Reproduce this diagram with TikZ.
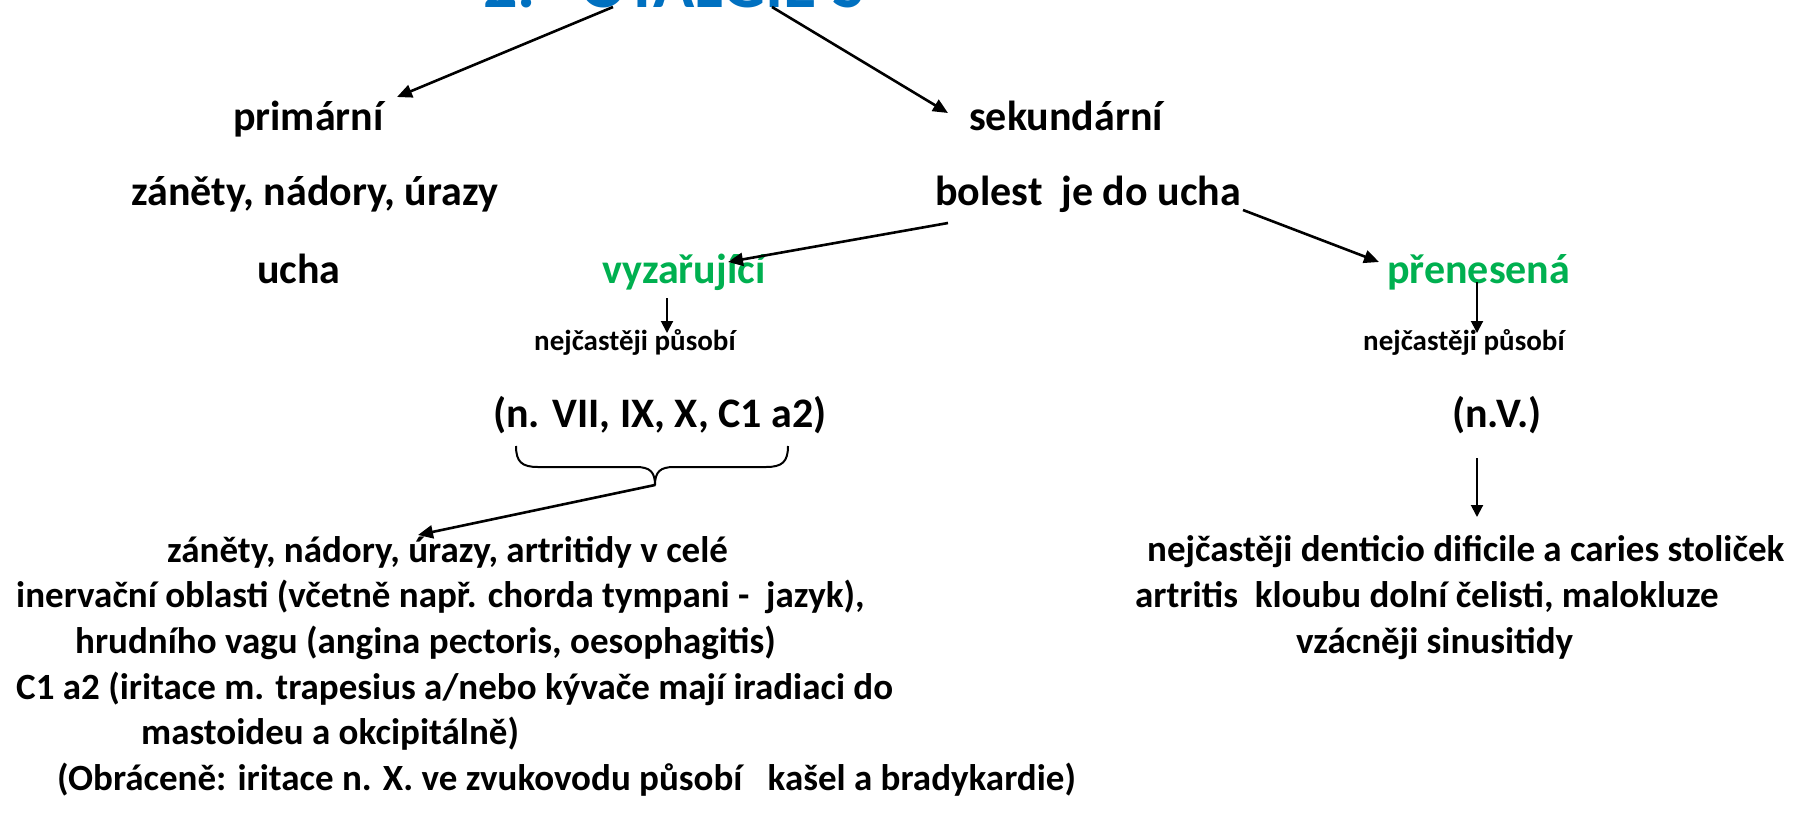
\documentclass[tikz,border=0pt]{standalone}
\usepackage{fontspec}
\setmainfont{Carlito}
\usetikzlibrary{arrows.meta}
\definecolor{tblue}{RGB}{0,112,192}
\definecolor{tgreen}{RGB}{0,176,80}
\tikzset{
  lab/.style={inner sep=0pt, anchor=base west, font=\fontsize{42}{50}\selectfont\bfseries},
  smalllab/.style={inner sep=0pt, anchor=base west, font=\fontsize{29}{34}\selectfont\bfseries},
  bodylab/.style={inner sep=0pt, anchor=base west, font=\fontsize{37}{44}\selectfont\bfseries},
  titlelab/.style={inner sep=0pt, anchor=base west, text=tblue, font=\fontsize{68}{80}\selectfont\bfseries},
  arr/.style={-{Triangle[length=15pt,width=13pt]}, line width=2.6pt},
  sarr/.style={-{Triangle[length=12pt,width=12pt]}, line width=2pt},
  bracestyle/.style={line width=2pt, line join=round}
}
\begin{document}
\begin{tikzpicture}[x=1pt,y=-1pt]
\useasboundingbox (0,0) rectangle (1805,830);
\fill[white] (0,0) rectangle (1805,830);
\begin{scope}
  \clip (0,0) rectangle (1805,830);
  \node[titlelab] (title) at (483,7) {2.\hspace{45pt}OTALGIE S};
\end{scope}
% top labels
\node[lab] (prim) at (233,130) {primární};
\node[lab] (sek) at (969,130) {sekundární};
\node[lab] (zan) at (131,205) {záněty, nádory, úrazy};
\node[lab] (bol) at (935,205) {bolest\ \ je do ucha};
\node[lab] (ucha) at (257,283) {ucha};
\node[lab, text=tgreen] (vyz) at (602,283) {vyzařující};
\node[lab, text=tgreen] (pren) at (1387,283) {přenesená};
\node[smalllab] (nej1) at (534,350) {nejčastěji působí};
\node[smalllab] (nej2) at (1363,350) {nejčastěji působí};
\node[lab] (nvii) at (493,427) {(n. VII, IX, X, C1 a2)};
\node[lab] (nv) at (1452,427) {(n.V.)};
% bottom left block
\node[bodylab] (l1) at (167,562) {záněty, nádory, úrazy, artritidy v celé};
\node[bodylab] (l2) at (16,607) {inervační oblasti (včetně např. chorda tympani -\ \ jazyk),};
\node[bodylab] (l3) at (75,653) {hrudního vagu (angina pectoris, oesophagitis)};
\node[bodylab] (l4) at (16,699) {C1 a2 (iritace m. trapesius a/nebo kývače mají iradiaci do};
\node[bodylab] (l5) at (141,744) {mastoideu a okcipitálně)};
\node[bodylab] (l6) at (57,790) {(Obráceně: iritace n. X. ve zvukovodu působí\ \ \ kašel a bradykardie)};
% bottom right block
\node[bodylab] (r1) at (1147,561) {nejčastěji denticio dificile a caries stoliček};
\node[bodylab] (r2) at (1135,607) {artritis\ \ kloubu dolní čelisti, malokluze};
\node[bodylab] (r3) at (1296,653) {vzácněji sinusitidy};
% connector end points
\coordinate (tA) at (613,7);
\coordinate (tB) at (772,7);
\coordinate (primE) at (397,97);
\coordinate (sekE) at (948,113);
\coordinate (bolA) at (948,223);
\coordinate (bolB) at (1243,210);
\coordinate (vyzE) at (728,262);
\coordinate (prenE) at (1379,262);
\coordinate (vyzS) at (667,298);
\coordinate (nej1E) at (667,333);
\coordinate (prenS) at (1477,282);
\coordinate (nej2E) at (1477,333);
\coordinate (braceTip) at (655,485);
\coordinate (l1E) at (418,535);
\coordinate (nvS) at (1477,458);
\coordinate (r1E) at (1477,517);
% brace
\draw[bracestyle] (516,446) .. controls (516,462) and (522,467) .. (538,467)
  -- (636,467) .. controls (650,467) and (655,472) .. (braceTip)
  .. controls (655,472) and (660,467) .. (674,467)
  -- (766,467) .. controls (782,467) and (788,462) .. (788,446);
% arrows
\draw[arr] (tA) -- (primE);
\draw[arr] (tB) -- (sekE);
\draw[arr] (bolA) -- (vyzE);
\draw[arr] (bolB) -- (prenE);
\draw[sarr] (vyzS) -- (nej1E);
\draw[sarr] (prenS) -- (nej2E);
\draw[arr] (braceTip) -- (l1E);
\draw[sarr] (nvS) -- (r1E);
\end{tikzpicture}
\end{document}
